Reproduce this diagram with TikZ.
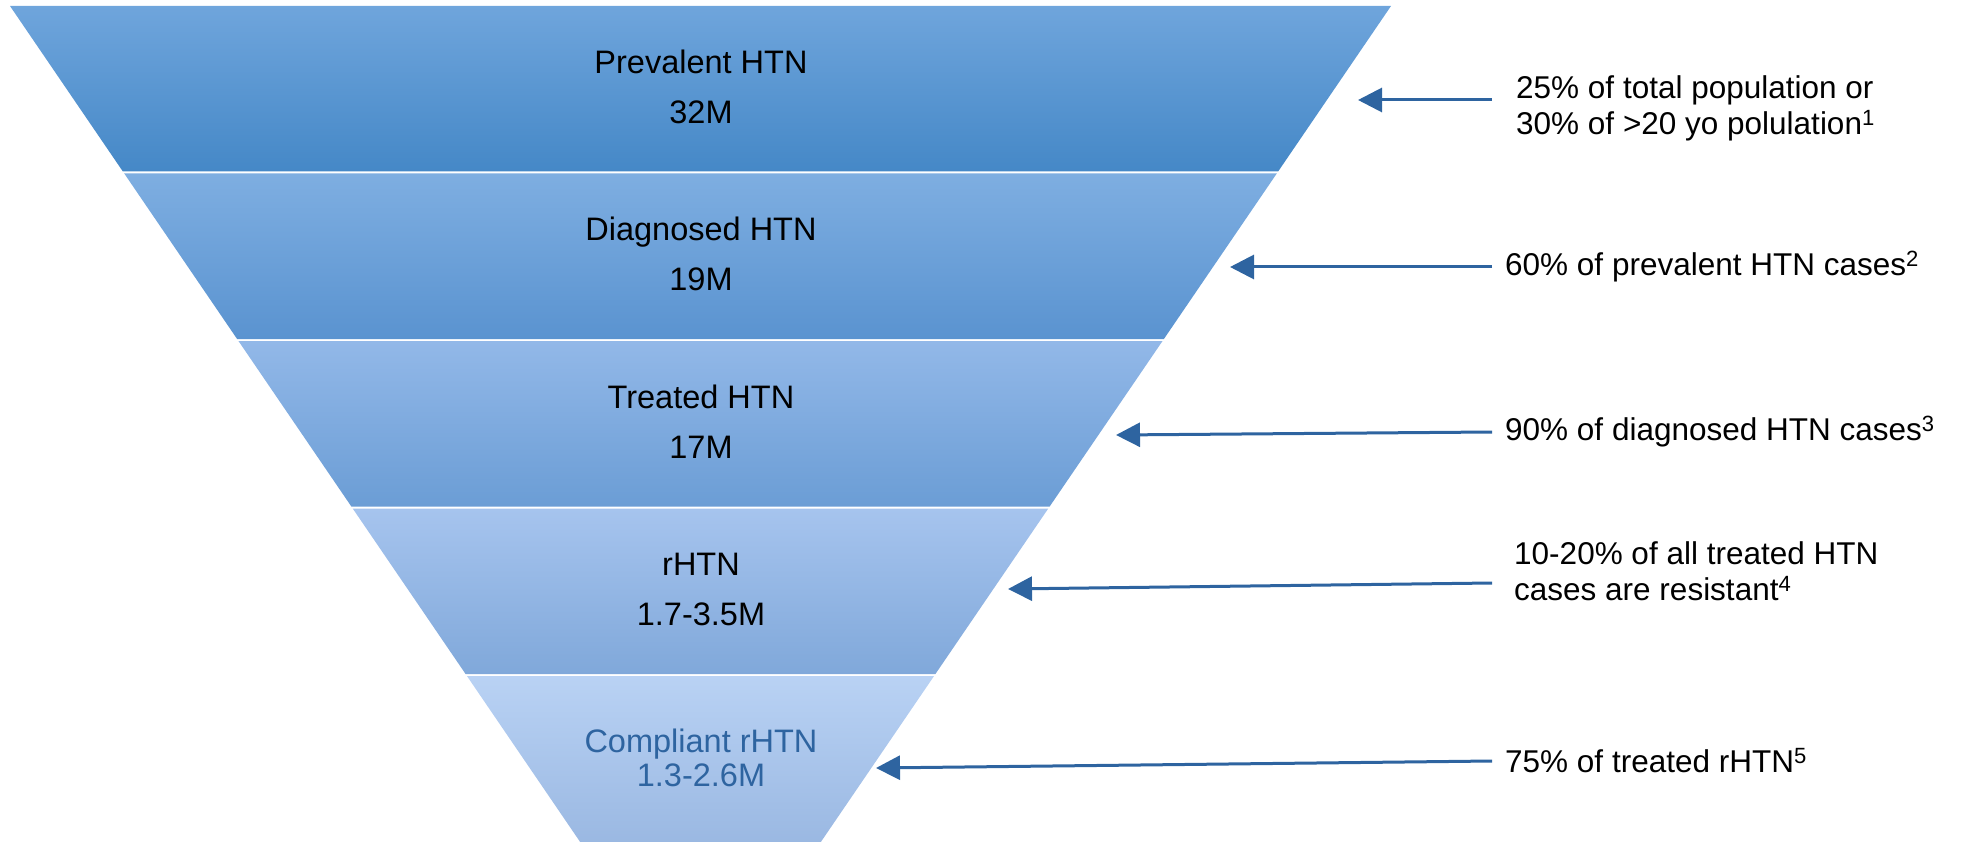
\documentclass[tikz,border=0pt]{standalone}
\usepackage{fontspec}
\setmainfont{Liberation Sans}
\usetikzlibrary{arrows.meta}

\definecolor{pointblue}{HTML}{2E64A0}
\definecolor{bandAt}{HTML}{6FA5DC}\definecolor{bandAm}{HTML}{5599DA}\definecolor{bandAb}{HTML}{4588C7}
\definecolor{bandBt}{HTML}{7EAEE1}\definecolor{bandBm}{HTML}{6AA5E2}\definecolor{bandBb}{HTML}{5A93D0}
\definecolor{bandCt}{HTML}{92B8E8}\definecolor{bandCm}{HTML}{80B0E9}\definecolor{bandCb}{HTML}{6B9DD5}
\definecolor{bandDt}{HTML}{A6C4EE}\definecolor{bandDm}{HTML}{95BCED}\definecolor{bandDb}{HTML}{80A8DA}
\definecolor{bandEt}{HTML}{B9D2F4}\definecolor{bandEm}{HTML}{ABC9F2}\definecolor{bandEb}{HTML}{9AB8E2}

\tikzset{
  bandtext/.style={align=center, font=\fontsize{32.5}{50}\selectfont},
  note/.style={anchor=west, align=left, inner xsep=13pt, font=\fontsize{31.5}{36}\selectfont},
  pointer/.style={draw=pointblue, line width=3pt, -{Triangle[length=24pt,width=24pt]}}
}

\begin{document}
\begin{tikzpicture}[x=1pt,y=-1pt]
\useasboundingbox (0,0) rectangle (1962,842);
% funnel bands, top to bottom
\foreach \i/\tc/\mc/\bc in {0/bandAt/bandAm/bandAb,1/bandBt/bandBm/bandBb,2/bandCt/bandCm/bandCb,3/bandDt/bandDm/bandDb,4/bandEt/bandEm/bandEb}{
  \pgfmathsetmacro\yt{6+167.5*\i}
  \pgfmathsetmacro\yb{min(\yt+165.5,842)+(\i==4)*2}
  \pgfmathsetmacro\wt{690.5-0.682*(\yt-6)}
  \pgfmathsetmacro\wb{690.5-0.682*(\yb-6)}
  \shade[top color=\tc, middle color=\mc, bottom color=\bc]
    (700.5-\wt,\yt) -- (700.5+\wt,\yt) -- (700.5+\wb,\yb) -- (700.5-\wb,\yb) -- cycle;
}

\node[bandtext] (prev) at (701,87) {Prevalent HTN\\32M};
\node[bandtext] (diag) at (701,254) {Diagnosed HTN\\19M};
\node[bandtext] (treat) at (701,422) {Treated HTN\\17M};
\node[bandtext] (resist) at (701,589) {rHTN\\1.7-3.5M};
\node[bandtext, text=pointblue, font=\fontsize{32.5}{34}\selectfont] (compl) at (701,758) {Compliant rHTN\\1.3-2.6M};

% notes on the right
\node[note, inner xsep=24pt] (n1) at (1492,108) {25\% of total population or\\30\% of >20 yo polulation\textsuperscript{1}};
\node[note] (n2) at (1492,267) {60\% of prevalent HTN cases\textsuperscript{2}};
\node[note] (n3) at (1492,432) {90\% of diagnosed HTN cases\textsuperscript{3}};
\node[note, inner xsep=22pt] (n4) at (1492,571) {10-20\% of all treated HTN\\cases are resistant\textsuperscript{4}};
\node[note] (n5) at (1492,761) {75\% of treated rHTN\textsuperscript{5}};

\coordinate (t1) at (1358,100);
\coordinate (t2) at (1230,267);
\coordinate (t3) at (1116,435);
\coordinate (t4) at (1008,589);
\coordinate (t5) at (876,768);

\draw[pointer] ([yshift=8pt]n1.west) -- (t1);
\draw[pointer] (n2.west) -- (t2);
\draw[pointer] (n3.west) -- (t3);
\draw[pointer] ([yshift=-12pt]n4.west) -- (t4);
\draw[pointer] (n5.west) -- (t5);
\end{tikzpicture}
\end{document}
